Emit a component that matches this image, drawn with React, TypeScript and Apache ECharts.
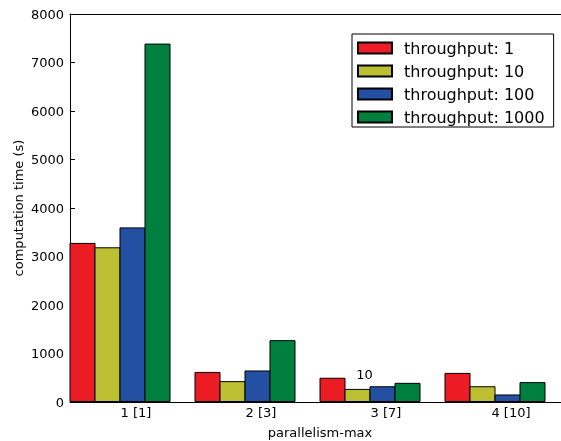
import React, { useEffect, useRef } from "react";
import * as echarts from "echarts";

const groupLabels = ["1 [1]", "2 [3]", "3 [7]", "4 [10]"];
const seriesNames = ["throughput: 1", "throughput: 10", "throughput: 100", "throughput: 1000"];
const seriesColors = ["#ec1c24", "#bdbf33", "#2350a3", "#00803f"];
const throughput1 = [3280, 620, 500, 600];
const throughput10 = [3190, 430, 270, 325];
const throughput100 = [3600, 650, 325, 155];
const throughput1000 = [7390, 1275, 395, 410];
const yTicks = [0, 1000, 2000, 3000, 4000, 5000, 6000, 7000, 8000];
const annotationText = "10";
const annotationValue = 560;

const FONT = "DejaVu Sans";
const SLOTS = 5; // 4 bars + 1 gap per group

export default function App() {
  const ref = useRef<HTMLDivElement>(null);
  useEffect(() => {
    if (!ref.current) return;
    const chart = echarts.init(ref.current, null, { renderer: "svg" });
    const allValues = [throughput1, throughput10, throughput100, throughput1000];
    const slotCats: string[] = [];
    groupLabels.forEach((g) => {
      for (let k = 0; k < SLOTS; k++) slotCats.push(k === 2 ? g : "");
    });
    const showIdx = (i: number) => i % SLOTS === 2;
    const series = allValues.map((vals, s) => {
      const data: (number | null)[] = slotCats.map(() => null);
      vals.forEach((v, g) => {
        data[g * SLOTS + s] = v;
      });
      return {
        type: "bar",
        name: seriesNames[s],
        data,
        barWidth: 26,
        barGap: "-100%",
        itemStyle: { color: seriesColors[s], borderColor: "#000", borderWidth: 1 },
      };
    });
    chart.setOption({
      animation: false,
      textStyle: { fontFamily: FONT },
      grid: { left: 70, top: 14, width: 500, height: 388, containLabel: false, outerBoundsMode: "none" },
      xAxis: [
        {
          type: "category",
          data: slotCats,
          boundaryGap: true,
          name: "parallelism-max",
          nameLocation: "middle",
          nameGap: 24,
          nameTextStyle: { fontFamily: FONT, fontSize: 13, color: "#000" },
          axisLine: { lineStyle: { color: "#000", width: 1 } },
          axisTick: { inside: true, length: 5, alignWithLabel: true, interval: (i: number) => showIdx(i), lineStyle: { color: "#000" } },
          axisLabel: { interval: (i: number) => showIdx(i), fontFamily: FONT, fontSize: 13, color: "#000", margin: 4, padding: [0, 0, 0, 7] },
          splitLine: { show: false },
        },
        {
          type: "category",
          data: slotCats,
          position: "top",
          boundaryGap: true,
          axisLine: { lineStyle: { color: "#000", width: 1 } },
          axisTick: { inside: true, length: 5, alignWithLabel: true, interval: (i: number) => showIdx(i), lineStyle: { color: "#000" } },
          axisLabel: { show: false },
          splitLine: { show: false },
        },
      ],
      yAxis: {
        type: "value",
        min: yTicks[0],
        max: yTicks[yTicks.length - 1],
        interval: yTicks[1] - yTicks[0],
        name: "computation time (s)",
        nameLocation: "middle",
        nameGap: 45,
        nameMoveOverlap: false,
        nameTextStyle: { fontFamily: FONT, fontSize: 13, color: "#000" },
        axisLine: { show: true, lineStyle: { color: "#000", width: 1 } },
        axisTick: { show: true, inside: true, length: 5, lineStyle: { color: "#000" } },
        axisLabel: { fontFamily: FONT, fontSize: 13, color: "#000", margin: 6, formatter: (v: number) => String(v) },
        splitLine: { show: false },
      },
      legend: {
        orient: "vertical",
        left: 352,
        top: 34,
        width: 200,
        data: seriesNames,
        itemWidth: 34,
        itemHeight: 11,
        itemGap: 7,
        icon: "rect",
        padding: [6, 9, 2, 5],
        borderColor: "#000",
        borderWidth: 1,
        borderRadius: 0,
        backgroundColor: "#fff",
        textStyle: { fontFamily: FONT, fontSize: 16, color: "#000", padding: [0, 0, 0, 7] },
        selectedMode: false,
      },
      series,
    });
    const p = chart.convertToPixel({ xAxisIndex: 0, yAxisIndex: 0 }, [11, annotationValue]) as number[];
    chart.setOption({
      graphic: [
        {
          type: "text",
          x: p[0] + 7,
          y: p[1],
          style: { text: annotationText, fontFamily: FONT, fontSize: 13, fill: "#000", align: "center", verticalAlign: "middle" },
        },
      ],
    });
    return () => chart.dispose();
  }, []);
  return <div ref={ref} style={{ position: "fixed", left: 0, top: 0, width: 561, height: 441 }} />;
}
